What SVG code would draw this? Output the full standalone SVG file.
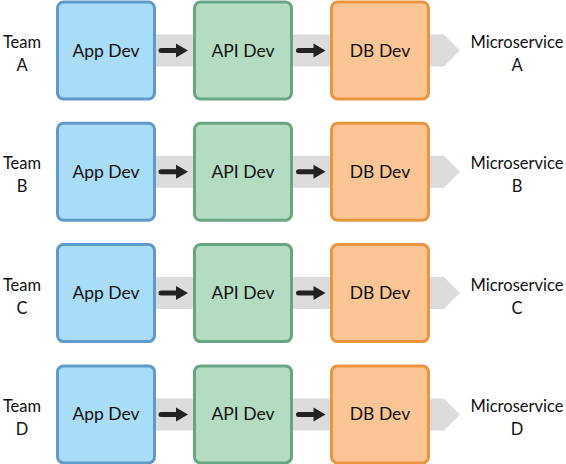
<svg xmlns="http://www.w3.org/2000/svg" width="566" height="464" viewBox="0 0 566 464">
<defs>
<style>
.bg{fill:#ffffff}
.band{fill:#dcdcdc}
.app{fill:#a9dcf7;stroke:#5f9acb;stroke-width:3}
.api{fill:#b3dcc0;stroke:#68a683;stroke-width:3}
.db{fill:#fcc595;stroke:#eb963f;stroke-width:3}
.lbl{font-family:Lato,"Liberation Sans",sans-serif;font-size:17.5px;fill:#111111;text-anchor:middle}
.side{font-family:Lato,"Liberation Sans",sans-serif;font-weight:400;font-size:16.5px;fill:#111111;text-anchor:middle}
.shaft{stroke:#222222;stroke-width:5;stroke-linecap:round;fill:none}
.head{fill:#222222}
</style>
<g id="row-shape">
<polygon class="band" points="150,-16 444,-16 460,0 444,16 150,16"/>
</g>
<g id="arrow-shape">
<line class="shaft" x1="0" y1="0" x2="17" y2="0"/>
<polygon class="head" points="15,-7 27,0 15,7"/>
</g>
</defs>
<rect class="bg" width="566" height="464"/>
<g id="bands">
<use href="#row-shape" transform="translate(0,50.5)"/>
<use href="#row-shape" transform="translate(0,171.8)"/>
<use href="#row-shape" transform="translate(0,293.1)"/>
<use href="#row-shape" transform="translate(0,414.4)"/>
</g>
<g id="connectors">
<use href="#arrow-shape" transform="translate(161,50.5)"/>
<use href="#arrow-shape" transform="translate(298.5,50.5)"/>
<use href="#arrow-shape" transform="translate(161,171.8)"/>
<use href="#arrow-shape" transform="translate(298.5,171.8)"/>
<use href="#arrow-shape" transform="translate(161,293.1)"/>
<use href="#arrow-shape" transform="translate(298.5,293.1)"/>
<use href="#arrow-shape" transform="translate(161,414.4)"/>
<use href="#arrow-shape" transform="translate(298.5,414.4)"/>
</g>
<g id="teamA"><text class="side" x="22" y="48">Team</text><text class="side" x="22" y="71">A</text></g>
<g id="teamB"><text class="side" x="22" y="169.3">Team</text><text class="side" x="22" y="192.3">B</text></g>
<g id="teamC"><text class="side" x="22" y="290.6">Team</text><text class="side" x="22" y="313.6">C</text></g>
<g id="teamD"><text class="side" x="22" y="411.9">Team</text><text class="side" x="22" y="434.9">D</text></g>
<g id="appA"><rect class="app" x="57.5" y="2" width="97" height="97" rx="6"/><text class="lbl" x="106" y="56.5">App Dev</text></g>
<g id="apiA"><rect class="api" x="194.5" y="2" width="97" height="97" rx="6"/><text class="lbl" x="243" y="56.5">API Dev</text></g>
<g id="dbA"><rect class="db" x="331.5" y="2" width="97" height="97" rx="6"/><text class="lbl" x="380" y="56.5">DB Dev</text></g>
<g id="appB"><rect class="app" x="57.5" y="123.3" width="97" height="97" rx="6"/><text class="lbl" x="106" y="177.8">App Dev</text></g>
<g id="apiB"><rect class="api" x="194.5" y="123.3" width="97" height="97" rx="6"/><text class="lbl" x="243" y="177.8">API Dev</text></g>
<g id="dbB"><rect class="db" x="331.5" y="123.3" width="97" height="97" rx="6"/><text class="lbl" x="380" y="177.8">DB Dev</text></g>
<g id="appC"><rect class="app" x="57.5" y="244.6" width="97" height="97" rx="6"/><text class="lbl" x="106" y="299.1">App Dev</text></g>
<g id="apiC"><rect class="api" x="194.5" y="244.6" width="97" height="97" rx="6"/><text class="lbl" x="243" y="299.1">API Dev</text></g>
<g id="dbC"><rect class="db" x="331.5" y="244.6" width="97" height="97" rx="6"/><text class="lbl" x="380" y="299.1">DB Dev</text></g>
<g id="appD"><rect class="app" x="57.5" y="365.9" width="97" height="97" rx="6"/><text class="lbl" x="106" y="420.4">App Dev</text></g>
<g id="apiD"><rect class="api" x="194.5" y="365.9" width="97" height="97" rx="6"/><text class="lbl" x="243" y="420.4">API Dev</text></g>
<g id="dbD"><rect class="db" x="331.5" y="365.9" width="97" height="97" rx="6"/><text class="lbl" x="380" y="420.4">DB Dev</text></g>
<g id="msA"><text class="side" x="517" y="48">Microservice</text><text class="side" x="517" y="71">A</text></g>
<g id="msB"><text class="side" x="517" y="169.3">Microservice</text><text class="side" x="517" y="192.3">B</text></g>
<g id="msC"><text class="side" x="517" y="290.6">Microservice</text><text class="side" x="517" y="313.6">C</text></g>
<g id="msD"><text class="side" x="517" y="411.9">Microservice</text><text class="side" x="517" y="434.9">D</text></g>
</svg>
